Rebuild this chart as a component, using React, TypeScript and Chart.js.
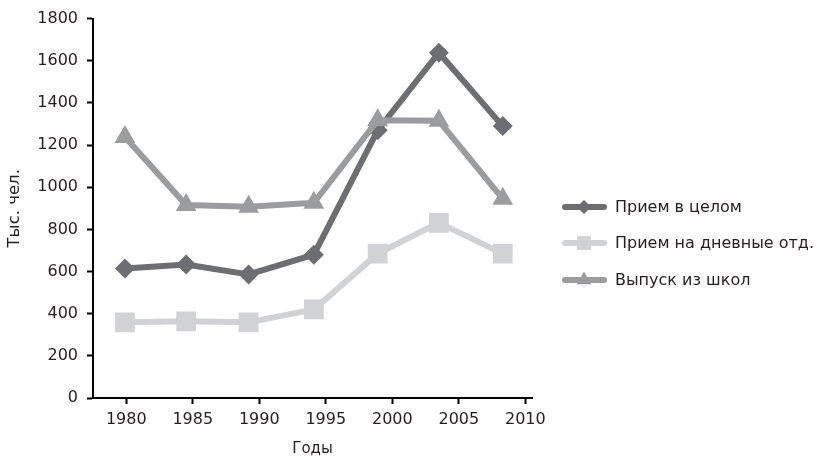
import React, { useEffect, useRef } from "react";
import { Chart, registerables } from "chart.js";

Chart.register(...registerables);

const tickYears = [1980, 1985, 1990, 1995, 2000, 2005, 2010];
const pointYears = [1979.9, 1984.5, 1989.2, 1994.1, 1998.9, 2003.5, 2008.3];
const seriesNames = ["Прием в целом", "Прием на дневные отд.", "Выпуск из школ"];
const totalAdmission = [614, 633, 586, 680, 1270, 1638, 1290];
const dayAdmission = [359, 364, 359, 420, 685, 831, 685];
const schoolGraduates = [1238, 916, 907, 926, 1318, 1315, 945];
const yTicks = [0, 200, 400, 600, 800, 1000, 1200, 1400, 1600, 1800];

const FONT = "DejaVu Sans";
const TEXT = "#231f20";
const colors = ["#6d6e71", "#d1d2d4", "#9b9c9e"];
const pointStyles = ["rectRot", "rect", "triangle"];
const radii = [10, 14, 12];

const legendPlugin = {
  id: "customLegend",
  afterDraw(chart: any) {
    const ctx = chart.ctx;
    const rows = [207, 243, 280];
    ctx.save();
    chart.data.datasets.forEach((ds: any, i: number) => {
      const y = rows[i];
      ctx.strokeStyle = ds.borderColor;
      ctx.lineWidth = 6;
      ctx.lineCap = "round";
      ctx.beginPath();
      ctx.moveTo(565, y);
      ctx.lineTo(604, y);
      ctx.stroke();
      ctx.fillStyle = ds.borderColor;
      ctx.beginPath();
      const s = ds.pointStyle;
      const r = ds.pointRadius * 0.7;
      const cx = 584;
      if (s === "rectRot") {
        ctx.moveTo(cx - r, y); ctx.lineTo(cx, y - r); ctx.lineTo(cx + r, y); ctx.lineTo(cx, y + r);
      } else if (s === "rect") {
        const h = r * 0.707;
        ctx.rect(cx - h, y - h, 2 * h, 2 * h);
      } else {
        ctx.moveTo(cx, y - r); ctx.lineTo(cx + r * 0.866, y + r / 2); ctx.lineTo(cx - r * 0.866, y + r / 2);
      }
      ctx.closePath();
      ctx.fill();
      ctx.fillStyle = TEXT;
      ctx.font = `16px "${FONT}"`;
      ctx.textBaseline = "middle";
      ctx.textAlign = "left";
      ctx.fillText(seriesNames[i], 615, y + 1);
    });
    ctx.restore();
  },
};

export default function App() {
  const ref = useRef<HTMLCanvasElement | null>(null);
  useEffect(() => {
    if (!ref.current) return;
    const mk = (vals: number[]) => vals.map((v, i) => ({ x: pointYears[i], y: v }));
    const all = [totalAdmission, dayAdmission, schoolGraduates];
    const chart = new Chart(ref.current, {
      type: "line",
      data: {
        datasets: all.map((vals, i) => ({
          label: seriesNames[i],
          data: mk(vals),
          borderColor: colors[i],
          backgroundColor: colors[i],
          borderWidth: 6,
          pointStyle: pointStyles[i] as any,
          pointRadius: radii[i],
          pointBorderWidth: 0,
          pointBackgroundColor: colors[i],
          order: 3 - i,
          tension: 0,
        })),
      },
      options: {
        animation: false,
        responsive: false,
        maintainAspectRatio: false,
        layout: { padding: { left: 0, right: 295, top: 17, bottom: 2 } },
        plugins: { legend: { display: false }, tooltip: { enabled: false } },
        scales: {
          x: {
            type: "linear",
            min: 1977.5,
            max: 2010.5,
            afterBuildTicks: (s: any) => { s.ticks = tickYears.map((v) => ({ value: v })); },
            afterFit: (s: any) => { s.height = 462 - 398 - 2; },
            border: { color: "#000", width: 2 },
            grid: { drawOnChartArea: false, color: "#000", tickLength: 6, tickWidth: 2 },
            ticks: { color: TEXT, font: { family: FONT, size: 16 }, padding: 6, maxRotation: 0, autoSkip: false, callback: (v: any) => String(v) },
            title: { display: true, text: "Годы", color: TEXT, font: { family: FONT, size: 15 }, padding: { top: 0, bottom: 2 } },
          },
          y: {
            min: 0,
            max: 1800,
            afterBuildTicks: (s: any) => { s.ticks = yTicks.map((v) => ({ value: v })); },
            afterFit: (s: any) => { s.width = 93; },
            border: { color: "#000", width: 2 },
            grid: { drawOnChartArea: false, color: "#000", tickLength: 6, tickWidth: 2 },
            ticks: { color: TEXT, font: { family: FONT, size: 16 }, padding: 9, callback: (v: any) => String(v) },
            title: { display: true, text: "Тыс. чел.", color: TEXT, font: { family: FONT, size: 16.5 }, padding: { top: 5, bottom: 0 } },
          },
        },
      },
      plugins: [legendPlugin],
    });
    return () => chart.destroy();
  }, []);
  return (
    <div style={{ position: "fixed", left: 0, top: 0, width: 827, height: 462, background: "#fff" }}>
      <canvas ref={ref} width={827} height={462} style={{ width: 827, height: 462 }} />
    </div>
  );
}
